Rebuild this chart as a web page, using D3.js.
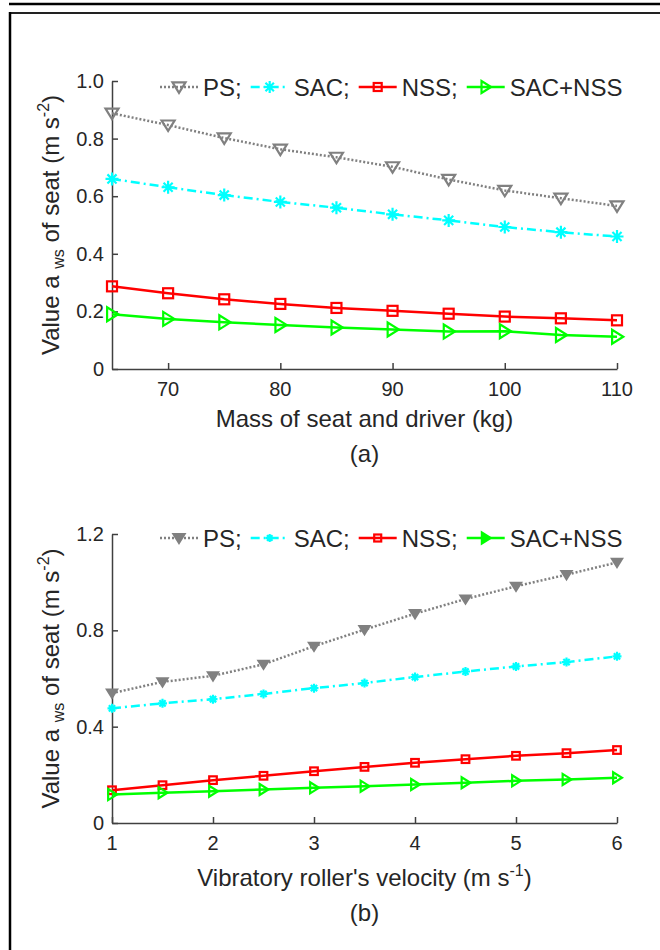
<!DOCTYPE html>
<html>
<head>
<meta charset="utf-8">
<script src="https://cdn.jsdelivr.net/npm/d3@7"></script>
<style>
  body { margin: 0; background: #fff; }
  text { font-family: "Liberation Sans", Arial, sans-serif; fill: #262626; }
</style>
</head>
<body>
<svg id="fig" width="660" height="950"></svg>
<script>
// panel (a): mass of seat and driver
const massKg = [65, 70, 75, 80, 85, 90, 95, 100, 105, 110];
const psA = [0.888, 0.847, 0.802, 0.763, 0.735, 0.702, 0.658, 0.620, 0.593, 0.566];
const sacA = [0.660, 0.631, 0.604, 0.580, 0.560, 0.537, 0.516, 0.493, 0.475, 0.460];
const nssA = [0.287, 0.263, 0.242, 0.226, 0.212, 0.202, 0.192, 0.182, 0.176, 0.169];
const sacNssA = [0.190, 0.174, 0.162, 0.153, 0.144, 0.137, 0.130, 0.131, 0.118, 0.112];
const xTicksA = [70, 80, 90, 100, 110];
const yTicksA = [0, 0.2, 0.4, 0.6, 0.8, 1.0];

// panel (b): roller velocity
const velocity = [1, 1.5, 2, 2.5, 3, 3.5, 4, 4.5, 5, 5.5, 6];
const psB = [0.539, 0.586, 0.611, 0.659, 0.734, 0.803, 0.869, 0.930, 0.983, 1.031, 1.082];
const sacB = [0.476, 0.497, 0.514, 0.536, 0.560, 0.581, 0.606, 0.629, 0.650, 0.668, 0.692];
const nssB = [0.136, 0.157, 0.178, 0.196, 0.215, 0.233, 0.250, 0.265, 0.279, 0.290, 0.303];
const sacNssB = [0.118, 0.126, 0.132, 0.139, 0.146, 0.153, 0.160, 0.167, 0.175, 0.181, 0.188];
const xTicksB = [1, 2, 3, 4, 5, 6];
const yTicksB = [0, 0.4, 0.8, 1.2];

const seriesNames = ["PS;", "SAC;", "NSS;", "SAC+NSS"];

const svg = d3.select("#fig");
const axisColor = "#404040";

// page frame
svg.append("line").attr("x1", 9).attr("x2", 660).attr("y1", 4).attr("y2", 4)
  .attr("stroke", "#000").attr("stroke-width", 2.5);
svg.append("line").attr("x1", 9).attr("x2", 660).attr("y1", 13).attr("y2", 13)
  .attr("stroke", "#222").attr("stroke-width", 2);
svg.append("line").attr("x1", 10).attr("x2", 10).attr("y1", 12).attr("y2", 950)
  .attr("stroke", "#000").attr("stroke-width", 2.5);

function drawMarker(g, type, cx, cy, s, color, filled) {
  const fill = filled ? color : "none";
  if (type === "triDown") {
    g.append("path")
      .attr("d", `M${cx - s},${cy - s * 0.7}L${cx + s},${cy - s * 0.7}L${cx},${cy + s * 0.9}Z`)
      .attr("fill", fill).attr("stroke", color).attr("stroke-width", 2.2);
  } else if (type === "triRight") {
    g.append("path")
      .attr("d", `M${cx - s * 0.7},${cy - s}L${cx - s * 0.7},${cy + s}L${cx + s * 0.9},${cy}Z`)
      .attr("fill", fill).attr("stroke", color).attr("stroke-width", 2.2);
  } else if (type === "square") {
    g.append("rect").attr("x", cx - s).attr("y", cy - s).attr("width", 2 * s).attr("height", 2 * s)
      .attr("fill", fill).attr("stroke", color).attr("stroke-width", 2.2);
  } else if (type === "star") {
    const d = s * 0.7;
    const p = `M${cx - s},${cy}L${cx + s},${cy}M${cx},${cy - s}L${cx},${cy + s}` +
      `M${cx - d},${cy - d}L${cx + d},${cy + d}M${cx - d},${cy + d}L${cx + d},${cy - d}`;
    g.append("path").attr("d", p).attr("stroke", color).attr("stroke-width", 2.2).attr("fill", "none");
    if (filled) g.append("circle").attr("cx", cx).attr("cy", cy).attr("r", s * 0.55).attr("fill", color);
  }
}

function drawPanel(cfg) {
  const x = d3.scaleLinear().domain(cfg.xDomain).range([112, 617]);
  const y = d3.scaleLinear().domain(cfg.yDomain).range([cfg.bottom, cfg.top]);
  const g = svg.append("g");

  // axes (ticks pointing inwards, MATLAB style)
  g.append("g").attr("transform", `translate(0,${cfg.bottom})`)
    .call(d3.axisBottom(x).tickValues(cfg.xTicks).tickSize(-6).tickSizeOuter(0).tickFormat(""))
    .call(a => a.select(".domain").attr("stroke", axisColor).attr("stroke-width", 1.5))
    .call(a => a.selectAll(".tick line").attr("stroke", axisColor).attr("stroke-width", 1.5));
  g.append("g").attr("transform", "translate(112,0)")
    .call(d3.axisLeft(y).tickValues(cfg.yTicks).tickSize(-6).tickSizeOuter(0).tickFormat(""))
    .call(a => a.select(".domain").attr("stroke", axisColor).attr("stroke-width", 1.5))
    .call(a => a.selectAll(".tick line").attr("stroke", axisColor).attr("stroke-width", 1.5));

  g.selectAll(".xl").data(cfg.xTicks).enter().append("text")
    .attr("x", d => x(d)).attr("y", cfg.bottom + 27)
    .attr("text-anchor", "middle").style("font-size", "20px").text(d => d);
  g.selectAll(".yl").data(cfg.yTicks).enter().append("text")
    .attr("x", 104).attr("y", d => y(d) + 7)
    .attr("text-anchor", "end").style("font-size", "20px").text(cfg.yFmt);

  // series
  cfg.series.forEach(s => {
    const line = d3.line().x((d, i) => x(cfg.xs[i])).y(d => y(d));
    g.append("path").datum(s.values).attr("d", line)
      .attr("fill", "none").attr("stroke", s.color).attr("stroke-width", 2.5)
      .attr("stroke-dasharray", s.dash);
    s.values.forEach((v, i) => drawMarker(g, s.marker, x(cfg.xs[i]), y(v), s.size, s.color, s.filled));
  });

  // legend
  let lx = 160;
  const ly = cfg.top + cfg.legendDy;
  cfg.series.forEach((s, i) => {
    g.append("line").attr("x1", lx).attr("x2", lx + 38).attr("y1", ly).attr("y2", ly)
      .attr("stroke", s.color).attr("stroke-width", 2.5).attr("stroke-dasharray", s.dash);
    drawMarker(g, s.marker, lx + 19, ly, s.legendSize, s.color, s.legendFilled);
    const t = g.append("text").attr("x", lx + 43).attr("y", ly + 8.5)
      .style("font-size", "24px").text(seriesNames[i]);
    lx = lx + 43 + t.node().getComputedTextLength() + 9;
  });

  // y label with subscript / superscript
  const yl = g.append("text")
    .attr("transform", `translate(59,${(cfg.top + cfg.bottom) / 2}) rotate(-90)`)
    .attr("text-anchor", "middle").style("font-size", "24px");
  yl.append("tspan").text("Value a ");
  yl.append("tspan").style("font-size", "16px").attr("dy", 5).text("ws");
  yl.append("tspan").attr("dy", -5).text(" of seat (m s");
  yl.append("tspan").style("font-size", "16px").attr("dy", -10).text("-2");
  yl.append("tspan").attr("dy", 10).text(")");

  // x label
  const xl = g.append("text").attr("x", 364.5).attr("y", cfg.bottom + cfg.labelDy)
    .attr("text-anchor", "middle").style("font-size", "24px");
  cfg.xLabel(xl);

  g.append("text").attr("x", 364.5).attr("y", cfg.bottom + cfg.captionDy)
    .attr("text-anchor", "middle").style("font-size", "24px").text(cfg.caption);
}

drawPanel({
  xDomain: [65, 110], yDomain: [0, 1], top: 81, bottom: 369, legendDy: 6,
  labelDy: 58, captionDy: 93,
  xs: massKg, xTicks: xTicksA, yTicks: yTicksA, yFmt: d => d === 0 ? "0" : d.toFixed(1),
  series: [
    { values: psA, color: "#808080", dash: "2,2", marker: "triDown", size: 6.5, filled: false, legendSize: 6.5, legendFilled: false },
    { values: sacA, color: "#00FFFF", dash: "9,4,2,4", marker: "star", size: 6.5, filled: false, legendSize: 6, legendFilled: false },
    { values: nssA, color: "#FF0000", dash: null, marker: "square", size: 5, filled: false, legendSize: 4, legendFilled: false },
    { values: sacNssA, color: "#00FF00", dash: null, marker: "triRight", size: 7, filled: false, legendSize: 6, legendFilled: false }
  ],
  xLabel: t => t.text("Mass of seat and driver (kg)"),
  caption: "(a)"
});

drawPanel({
  xDomain: [1, 6], yDomain: [0, 1.2], top: 534, bottom: 823, legendDy: 4,
  labelDy: 63, captionDy: 98,
  xs: velocity, xTicks: xTicksB, yTicks: yTicksB, yFmt: d => d === 0 ? "0" : d.toFixed(1),
  series: [
    { values: psB, color: "#808080", dash: "2,2", marker: "triDown", size: 5, filled: true, legendSize: 5.5, legendFilled: true },
    { values: sacB, color: "#00FFFF", dash: "9,4,2,4", marker: "star", size: 4.5, filled: true, legendSize: 4, legendFilled: true },
    { values: nssB, color: "#FF0000", dash: null, marker: "square", size: 3.8, filled: false, legendSize: 3.5, legendFilled: false },
    { values: sacNssB, color: "#00FF00", dash: null, marker: "triRight", size: 5.5, filled: false, legendSize: 5.5, legendFilled: true }
  ],
  xLabel: t => {
    t.append("tspan").text("Vibratory roller's velocity (m s");
    t.append("tspan").style("font-size", "16px").attr("dy", -10).text("-1");
    t.append("tspan").attr("dy", 10).text(")");
  },
  caption: "(b)"
});
</script>
</body>
</html>
